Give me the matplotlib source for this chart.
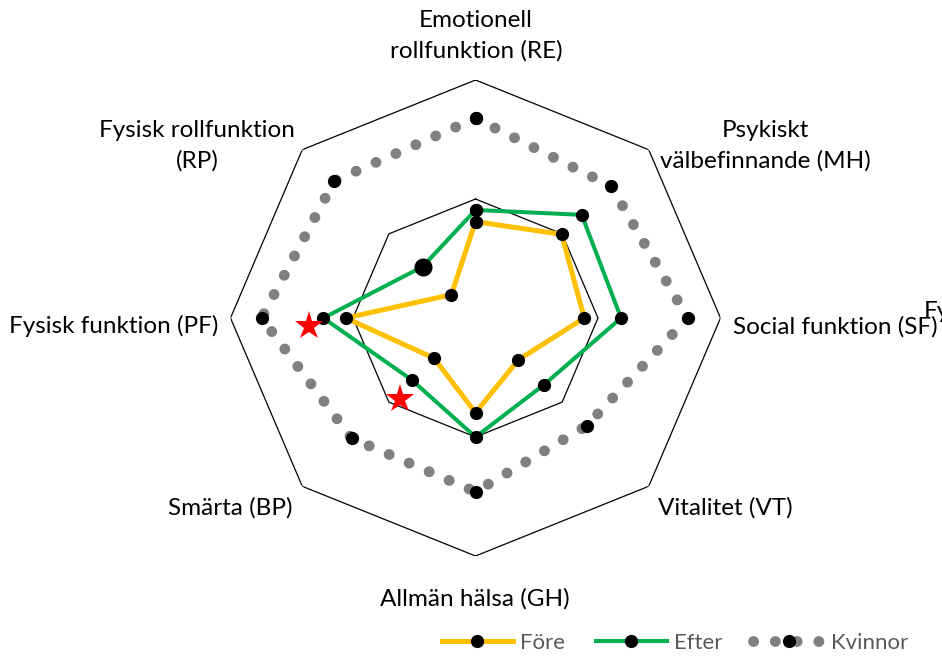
import numpy as np
import matplotlib
matplotlib.use("Agg")
import matplotlib.pyplot as plt

# SF-36 domäner, medurs från toppen
kategorier = ["Emotionell\nrollfunktion (RE)", "Psykiskt\nvälbefinnande (MH)",
              "Social funktion (SF)", "Vitalitet (VT)", "Allmän hälsa (GH)",
              "Smärta (BP)", "Fysisk funktion (PF)", "Fysisk rollfunktion\n(RP)"]
fore = [40.5, 49.7, 44.4, 24.8, 39.8, 23.9, 52.9, 13.9]
efter = [45.4, 61.3, 59.4, 39.6, 50.0, 36.8, 62.1, 30.5]
kvinnor = [83.9, 78.3, 86.6, 64.1, 73.0, 71.5, 87.3, 81.5]
# signifikansstjärnor (kategoriindex, värde)
stjarnor_idx = [6, 5]
stjarnor_varde = [68.0, 46.0]
gridnivaer = [50, 100]

W, H = 942, 657
plt.rcParams["font.family"] = ["Lato", "DejaVu Sans"]
fig = plt.figure(figsize=(W / 100, H / 100), dpi=100)

cx, cy, rx, ry = 475.5, 318, 245, 238
ax = fig.add_axes([(cx - rx) / W, (H - cy - ry) / H, 2 * rx / W, 2 * ry / H],
                  projection="polar")
ax.set_aspect("auto")
ax.set_theta_offset(np.pi / 2)
ax.set_theta_direction(-1)
ax.set_ylim(0, 100)
ax.grid(False)
ax.spines["polar"].set_visible(False)
ax.set_xticks([])
ax.set_yticks([])
ax.patch.set_alpha(0)

n = len(kategorier)
theta = np.linspace(0, 2 * np.pi, n, endpoint=False)
tt = np.append(theta, theta[0])

def sluten(v):
    return np.append(v, v[0])

for g in gridnivaer:
    ax.plot(tt, [g] * (n + 1), color="black", lw=0.9, zorder=1)

ax.plot(tt, sluten(kvinnor), color="#808080", lw=7.8,
        linestyle=(0, (0.01, 2.0)), dash_capstyle="round",
        marker="o", markersize=8.5, mfc="black", mec="black",
        label="Kvinnor", zorder=2)
ax.plot(tt, sluten(fore), color="#FFC000", lw=3.6, marker="o",
        markersize=8.5, mfc="black", mec="black", label="Före", zorder=3)
ax.plot(tt, sluten(efter), color="#00B050", lw=2.9, marker="o",
        markersize=8.5, mfc="black", mec="black", label="Efter", zorder=4)
ax.plot(theta[7], efter[7], "o", color="black", markersize=12, zorder=5)

st_theta = [theta[i] - np.deg2rad(3) for i in stjarnor_idx]
ax.plot(st_theta, stjarnor_varde, "*", color="red", markersize=21,
        markeredgewidth=0, linestyle="none", zorder=6)

# etiketter (pixelpositioner)
etikett_pos = [(476, 36, "center"), (765, 146, "center"), (733, 327, "left"),
               (658, 508, "left"), (475, 599, "center"), (293, 508, "right"),
               (218, 326, "right"), (197, 146, "center")]
for txt, (x, y, ha) in zip(kategorier, etikett_pos):
    fig.text(x / W, 1 - y / H, txt, ha=ha, va="center", fontsize=17.5,
             linespacing=1.55, color="black", multialignment="center")

fig.text(924 / W, 1 - 312 / H, "Fysisk", ha="left", va="center", fontsize=17.5)

h, l = ax.get_legend_handles_labels()
order = [1, 2, 0]
leg = fig.legend([h[i] for i in order], [l[i] for i in order], ncol=3,
                 loc="center", bbox_to_anchor=(675 / W, 1 - 643 / H),
                 frameon=False, fontsize=16, handlelength=3.2,
                 handletextpad=0.3, columnspacing=1.4, numpoints=1)
for t in leg.get_texts():
    t.set_color("#595959")

fig.savefig("out.png", dpi=100)
